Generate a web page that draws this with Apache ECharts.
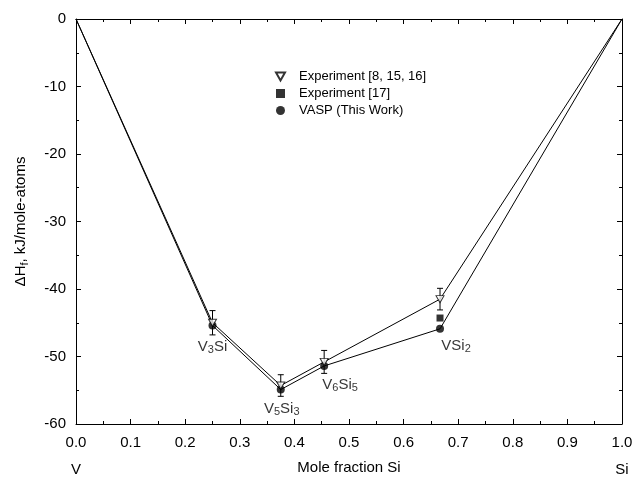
<!DOCTYPE html>
<html><head><meta charset="utf-8">
<script src="https://cdn.jsdelivr.net/npm/echarts@6/dist/echarts.min.js"></script>
<style>html,body{margin:0;padding:0;background:#fff}#c{width:633px;height:477px}</style>
</head><body><div id="c"></div>
<script>
const compositions = [0, 0.25, 0.375, 0.4545, 0.6667, 1];
const phaseLabels = ['', '{a|V}{s|3}{a|Si}', '{a|V}{s|5}{a|Si}{s|3}', '{a|V}{s|6}{a|Si}{s|5}', '{a|VSi}{s|2}', ''];
const expValues = [0, -45.0, -54.3, -50.8, -41.5, 0];
const expErr = [null, 1.8, 1.6, 1.7, 1.6, null];
const exp17X = [0.6667];
const exp17Values = [-44.3];
const vaspValues = [0, -45.4, -54.9, -51.4, -45.9, 0];
const xTicks = ['0.0','0.1','0.2','0.3','0.4','0.5','0.6','0.7','0.8','0.9','1.0'];
const yTicks = [0, -10, -20, -30, -40, -50, -60];
const endLabels = {0: 'V', 10: 'Si'};

const FONT = 'Liberation Sans, Arial, sans-serif';
const chart = echarts.init(document.getElementById('c'), null, {renderer: 'canvas'});

const pts = (vals) => compositions.map((x, i) => [x, vals[i]]);
const inner = (a) => pts(a).slice(1, -1);
const errData = compositions.map((x, i) => [x, expValues[i], expErr[i]]).filter(d => d[2] != null);
const labelOffsets = [[0, 21], [1, 19], [16, 19], [16, 17]];
const labelAnchors = [1, 2, 3, 4].map((i, k) => ({
  value: [compositions[i], vaspValues[i]],
  label: {offset: labelOffsets[k], formatter: phaseLabels[i]}
}));

const sub = () => ({
  a: {fontSize: 15, fontFamily: FONT, color: '#000', lineHeight: 18},
  s: {fontSize: 11, fontFamily: FONT, color: '#000', lineHeight: 18, padding: [7, 0, 0, 0]}
});

const axisCommon = () => ({
  axisLine: {show: true, onZero: false, lineStyle: {color: '#000', width: 1}},
  axisTick: {show: true, inside: true, length: 5, lineStyle: {color: '#000'}},
  minorTick: {show: true, splitNumber: 2, length: 3, lineStyle: {color: '#000'}},
  splitLine: {show: false}
});

chart.setOption({
  animation: false,
  backgroundColor: '#fff',
  grid: {left: 76, right: 11, top: 19, bottom: 53, containLabel: false, outerBoundsMode: 'none'},
  legend: {
    orient: 'vertical', left: 270, top: 65, itemGap: 4, itemWidth: 9, itemHeight: 9,
    textStyle: {fontSize: 13, fontFamily: FONT, color: '#000', padding: [0, 0, 0, 9]},
    data: ['Experiment [8, 15, 16]', 'Experiment [17]', 'VASP (This Work)']
  },
  xAxis: [
    Object.assign(axisCommon(), {
      type: 'value', min: 0, max: 1, interval: 0.1, position: 'bottom',
      name: 'Mole fraction Si', nameLocation: 'middle', nameGap: 36, nameMoveOverlap: false,
      nameTextStyle: {fontSize: 15, fontFamily: FONT, color: '#000'},
      axisLabel: {
        fontSize: 15, fontFamily: FONT, color: '#000', margin: 9, lineHeight: 20,
        formatter: (v) => {
          const i = Math.round(v * 10);
          const t = xTicks[i];
          if (endLabels[i] !== undefined) return t + '\n{e|' + endLabels[i] + '}';
          return t;
        },
        rich: {e: {fontSize: 15, fontFamily: FONT, color: '#000', lineHeight: 34}}
      }
    }),
    Object.assign(axisCommon(), {
      type: 'value', min: 0, max: 1, interval: 0.1, position: 'top', axisLabel: {show: false}
    })
  ],
  yAxis: [
    Object.assign(axisCommon(), {
      type: 'value', min: -60, max: 0, interval: 10, position: 'left',
      name: '{a|ΔH}{s|f}{a|, kJ/mole-atoms}', nameLocation: 'middle', nameGap: 46, nameRotate: 90,
      nameMoveOverlap: false,
      nameTextStyle: {rich: sub()},
      axisLabel: {fontSize: 15, fontFamily: FONT, color: '#000', margin: 10,
        formatter: (v) => String(yTicks[Math.round(-v / 10)])}
    }),
    Object.assign(axisCommon(), {
      type: 'value', min: -60, max: 0, interval: 10, position: 'right', axisLabel: {show: false}
    })
  ],
  series: [
    {type: 'line', data: pts(expValues), symbol: 'none', lineStyle: {color: '#000', width: 1}, z: 2},
    {type: 'line', data: pts(vaspValues), symbol: 'none', lineStyle: {color: '#000', width: 1}, z: 2},
    {
      type: 'custom', z: 3, data: errData,
      renderItem: (params, api) => {
        const x = api.value(0), y = api.value(1), e = api.value(2);
        const top = api.coord([x, y + e]), bot = api.coord([x, y - e]);
        const c = 3;
        return {type: 'group', children: [
          {type: 'line', shape: {x1: top[0], y1: top[1], x2: bot[0], y2: bot[1]}, style: {stroke: '#000', lineWidth: 1}},
          {type: 'line', shape: {x1: top[0] - c, y1: top[1], x2: top[0] + c, y2: top[1]}, style: {stroke: '#000', lineWidth: 1}},
          {type: 'line', shape: {x1: bot[0] - c, y1: bot[1], x2: bot[0] + c, y2: bot[1]}, style: {stroke: '#000', lineWidth: 1}}
        ]};
      }
    },
    {name: 'VASP (This Work)', type: 'scatter', data: inner(vaspValues), symbol: 'circle', symbolSize: 8,
      itemStyle: {color: '#000'}, z: 4},
    {name: 'Experiment [17]', type: 'scatter', data: exp17X.map((x, i) => [x, exp17Values[i]]), symbol: 'rect', symbolSize: 7,
      itemStyle: {color: '#000'}, z: 4},
    {name: 'Experiment [8, 15, 16]', type: 'scatter', data: inner(expValues), symbol: 'path://M0,0L10,0L5,9Z', symbolSize: [8, 7],
      itemStyle: {color: '#fff', borderColor: '#000', borderWidth: 1}, z: 5},
    {type: 'scatter', data: labelAnchors, symbolSize: 0, z: 6, silent: true,
      label: {show: true, position: 'inside', rich: sub()}}
  ]
});
</script></body></html>
